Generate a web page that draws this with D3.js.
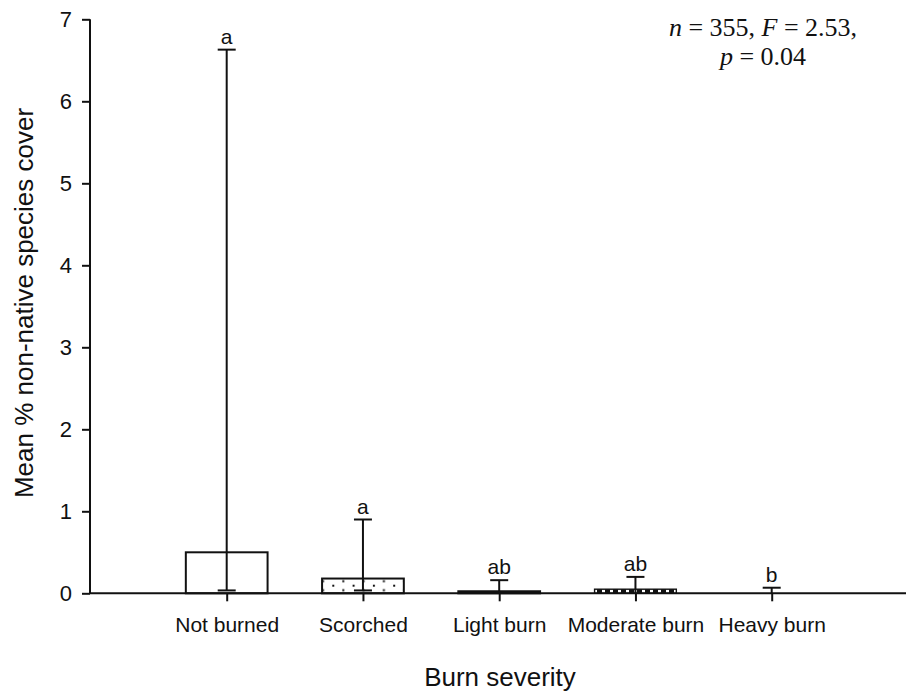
<!DOCTYPE html>
<html>
<head>
<meta charset="utf-8">
<script src="https://cdn.jsdelivr.net/npm/d3@7"></script>
<style>
  html, body { margin: 0; padding: 0; background: #fff; }
  svg { display: block; }
  text { font-family: "Liberation Sans", Arial, sans-serif; fill: #111; }
</style>
</head>
<body>
<svg id="chart" width="906" height="698"></svg>
<script>
// ---- data ----
const categories = ["Not burned", "Scorched", "Light burn", "Moderate burn", "Heavy burn"];
const means      = [0.50, 0.18, 0.025, 0.05, 0.0];
const errUpper   = [6.63, 0.90, 0.16, 0.20, 0.068];
const errLower   = [0.035, 0.035, 0.0, 0.0, 0.0];
const letters    = ["a", "a", "ab", "ab", "b"];
const yTicks     = [0, 1, 2, 3, 4, 5, 6, 7];
const statLine1  = [["n", true], [" = 355, ", false], ["F", true], [" = 2.53,", false]];
const statLine2  = [["p", true], [" = 0.04", false]];

// ---- layout ----
const svg = d3.select("#chart");
const x0 = 90, xEnd = 906, yTop = 19.3, yBase = 593.3;

const x = d3.scalePoint().domain(categories).range([226.7, 771.7]);
const y = d3.scaleLinear().domain([0, 7]).range([yBase, yTop]);
const barW = x.step() * 0.6;
const capW = 18;

// patterns
const defs = svg.append("defs");
const pDots = defs.append("pattern").attr("id", "dots").attr("patternUnits", "userSpaceOnUse")
  .attr("width", 20.3).attr("height", 9).attr("x", 332.3).attr("y", 584.7);
pDots.append("rect").attr("width", 20.3).attr("height", 9).attr("fill", "#fff");
pDots.append("rect").attr("x", 0).attr("y", 0).attr("width", 2).attr("height", 2).attr("fill", "#111");
pDots.append("rect").attr("x", 10).attr("y", 4.5).attr("width", 2).attr("height", 2).attr("fill", "#111");

const pDash = defs.append("pattern").attr("id", "dashes").attr("patternUnits", "userSpaceOnUse")
  .attr("width", 8).attr("height", 10).attr("x", 597).attr("y", 0);
pDash.append("rect").attr("width", 8).attr("height", 10).attr("fill", "#fff");
pDash.append("rect").attr("x", 0).attr("y", 0).attr("width", 5).attr("height", 10).attr("fill", "#111");

const fillFor = {
  "Not burned": "#fff",
  "Scorched": "url(#dots)",
  "Light burn": "#111",
  "Moderate burn": "url(#dashes)",
  "Heavy burn": "#fff"
};

const data = categories.map((c, i) => ({
  cat: c, mean: means[i], hi: errUpper[i], lo: errLower[i], letter: letters[i]
}));

// bars
svg.append("g").selectAll("rect").data(data.filter(d => d.mean > 0)).join("rect")
  .attr("x", d => x(d.cat) - barW / 2)
  .attr("y", d => y(d.mean))
  .attr("width", barW)
  .attr("height", d => yBase - y(d.mean))
  .attr("fill", d => fillFor[d.cat])
  .attr("stroke", "#111")
  .attr("stroke-width", d => d.cat === "Moderate burn" ? 1.4 : 2);

// error bars
const eb = svg.append("g").attr("stroke", "#111").attr("stroke-width", 2);
eb.selectAll("line.v").data(data).join("line").attr("class", "v")
  .attr("x1", d => x(d.cat)).attr("x2", d => x(d.cat))
  .attr("y1", d => y(d.lo)).attr("y2", d => y(d.hi));
eb.selectAll("line.hi").data(data).join("line").attr("class", "hi")
  .attr("x1", d => x(d.cat) - capW / 2).attr("x2", d => x(d.cat) + capW / 2)
  .attr("y1", d => y(d.hi)).attr("y2", d => y(d.hi));
eb.selectAll("line.lo").data(data.filter(d => d.lo > 0)).join("line").attr("class", "lo")
  .attr("x1", d => x(d.cat) - capW / 2).attr("x2", d => x(d.cat) + capW / 2)
  .attr("y1", d => y(d.lo)).attr("y2", d => y(d.lo));

// letters
svg.append("g").selectAll("text").data(data).join("text")
  .attr("x", d => x(d.cat))
  .attr("y", d => y(d.hi) - 6)
  .attr("text-anchor", "middle")
  .attr("font-size", 21)
  .text(d => d.letter);

// y axis
const yAxis = svg.append("g").attr("transform", `translate(${x0},0)`)
  .call(d3.axisLeft(y).tickValues(yTicks).tickSize(8).tickPadding(10).tickFormat(d3.format("d")));
yAxis.select(".domain").attr("d", `M0,${yTop}V${yBase}`).attr("stroke", "#111").attr("stroke-width", 2);
yAxis.selectAll(".tick line").attr("stroke", "#111").attr("stroke-width", 2);
yAxis.selectAll(".tick text").attr("font-size", 22).attr("font-family", "Liberation Sans, Arial, sans-serif").attr("fill", "#111");

// x axis
const xAxis = svg.append("g").attr("transform", `translate(0,${yBase})`)
  .call(d3.axisBottom(x).tickSize(8).tickPadding(16));
xAxis.select(".domain").attr("d", `M${x0},0H${xEnd}`).attr("stroke", "#111").attr("stroke-width", 2);
xAxis.selectAll(".tick line").attr("stroke", "#111").attr("stroke-width", 2);
xAxis.selectAll(".tick text").attr("font-size", 21).attr("font-family", "Liberation Sans, Arial, sans-serif").attr("fill", "#111");

// axis titles
svg.append("text").attr("x", 500).attr("y", 686).attr("text-anchor", "middle")
  .attr("font-size", 26).text("Burn severity");
svg.append("text").attr("transform", "translate(33,303) rotate(-90)").attr("text-anchor", "middle")
  .attr("font-size", 26).text("Mean % non-native species cover");

// stats annotation
function statText(parts, yPos) {
  const t = svg.append("text").attr("x", 763).attr("y", yPos).attr("text-anchor", "middle")
    .attr("font-size", 26).style("font-family", "'Liberation Serif', 'Times New Roman', serif");
  parts.forEach(([s, it]) => t.append("tspan").attr("font-style", it ? "italic" : "normal").text(s));
}
statText(statLine1, 36);
statText(statLine2, 65);
</script>
</body>
</html>
